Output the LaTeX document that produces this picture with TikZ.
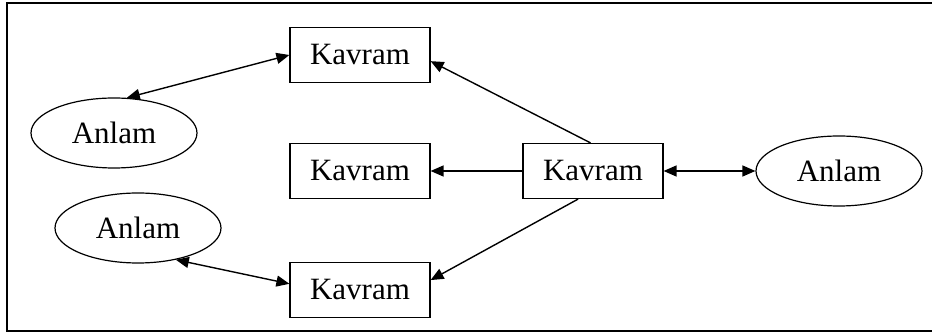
\documentclass[tikz,border=0pt]{standalone}
\usepackage{fontspec}
\setmainfont{Liberation Serif}
\usetikzlibrary{arrows.meta,shapes.geometric}

\begin{document}
\begin{tikzpicture}[x=1pt, y=1pt,
    kavram/.style={draw, line width=1.2pt, minimum width=140pt, minimum height=55pt,
        inner sep=0pt, font=\fontsize{31}{31}\selectfont},
    anlam/.style={draw, ellipse, line width=1.2pt, minimum width=166pt, minimum height=70pt,
        inner sep=0pt, font=\fontsize{31}{31}\selectfont},
    link/.style={line width=1.4pt, -{Triangle[length=13pt, width=11pt]}},
    twoway/.style={line width=1.4pt, {Triangle[length=13pt, width=11pt]}-{Triangle[length=13pt, width=11pt]}}]

    \useasboundingbox (0,0) rectangle (932,334);

    % Outer frame, open on the right
    \draw[line width=2pt] (7,3) rectangle (945,331);

    % Concept boxes
    \node[kavram] (kavramTop) at (360,279) {Kavram};
    \node[kavram] (kavramMid) at (360,163) {Kavram};
    \node[kavram] (kavramBot) at (360,44) {Kavram};
    \node[kavram] (kavramHub) at (593,163) {Kavram};

    % Meaning ellipses
    \node[anlam] (anlamLeft) at (114,201) {Anlam};
    \node[anlam] (anlamLow) at (138,106) {Anlam};
    \node[anlam] (anlamRight) at (839,163) {Anlam};

    % Links out of the hub
    \draw[link] (kavramHub.95) -- (kavramTop.-5);
    \draw[link] (kavramHub.west) -- (kavramMid.east);
    \draw[link] (kavramHub.-118) -- (kavramBot.8);

    % Two-way links between concepts and meanings
    \draw[twoway] (anlamLeft.70) -- (kavramTop.west);
    \draw[twoway] (anlamLow.-40) -- (kavramBot.175);
    \draw[twoway] (kavramHub.east) -- (anlamRight.west);
\end{tikzpicture}
\end{document}
